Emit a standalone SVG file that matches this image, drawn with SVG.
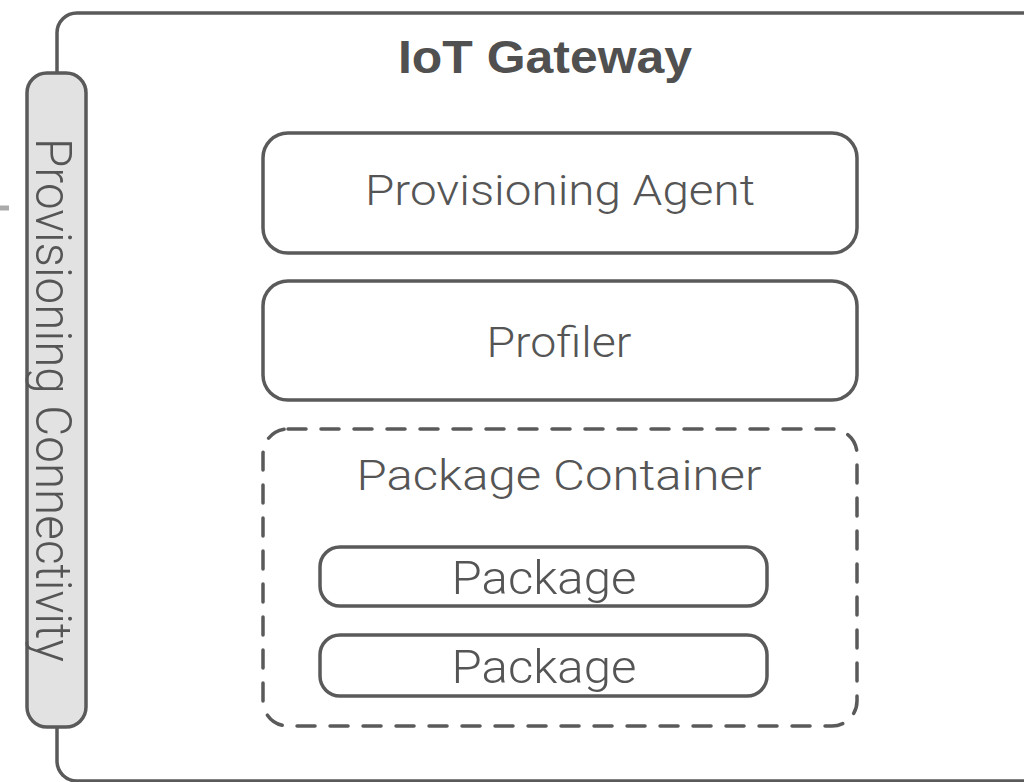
<svg xmlns="http://www.w3.org/2000/svg" width="1024" height="782" viewBox="0 0 1024 782">
  <style>
    .box { fill: #ffffff; stroke: #5a5a5a; stroke-width: 3.5; }
    .dash { fill: none; stroke: #5a5a5a; stroke-width: 3.5; stroke-dasharray: 18 15; stroke-linecap: round; }
    .pill { fill: #e2e2e2; stroke: #5a5a5a; stroke-width: 3.5; }
    .lbl { font-family: Roboto, "Liberation Sans", Arial, sans-serif; font-weight: 300; fill: #555555; text-anchor: middle; }
    .title { font-family: "Liberation Sans", Arial, sans-serif; font-weight: bold; fill: #505050; text-anchor: middle; }
  </style>

  <!-- outer gateway frame -->
  <g id="gateway">
    <rect class="box" x="57" y="13" width="992" height="768" rx="20" ry="20"/>
    <text class="title" x="545" y="73" font-size="46" textLength="294" lengthAdjust="spacingAndGlyphs">IoT Gateway</text>
  </g>

  <!-- short line entering from the left edge -->
  <g id="connectors">
    <line x1="0" y1="208" x2="9" y2="208" stroke="#aaaaaa" stroke-width="5"/>
  </g>

  <!-- vertical connectivity bar -->
  <g id="provisioning-connectivity">
    <rect class="pill" x="27" y="73" width="59" height="654" rx="20" ry="20"/>
    <text class="lbl" transform="translate(36,400) rotate(90)" x="0" y="0" font-size="50" textLength="524" lengthAdjust="spacingAndGlyphs">Provisioning Connectivity</text>
  </g>

  <g id="provisioning-agent">
    <rect class="box" x="263" y="133" width="594" height="120" rx="25" ry="25"/>
    <text class="lbl" x="560" y="205" font-size="43" textLength="390" lengthAdjust="spacingAndGlyphs">Provisioning Agent</text>
  </g>

  <g id="profiler">
    <rect class="box" x="263" y="281" width="594" height="119" rx="25" ry="25"/>
    <text class="lbl" x="559" y="357" font-size="43" textLength="145" lengthAdjust="spacingAndGlyphs">Profiler</text>
  </g>

  <g id="package-container">
    <rect class="dash" x="263" y="429" width="594" height="297" rx="25" ry="25"/>
    <text class="lbl" x="559" y="490" font-size="43" textLength="405" lengthAdjust="spacingAndGlyphs">Package Container</text>
  </g>

  <g id="package-1">
    <rect class="box" x="320" y="547" width="447" height="59" rx="20" ry="20"/>
    <text class="lbl" x="544" y="594" font-size="47" textLength="185" lengthAdjust="spacingAndGlyphs">Package</text>
  </g>

  <g id="package-2">
    <rect class="box" x="320" y="635" width="447" height="61" rx="20" ry="20"/>
    <text class="lbl" x="544" y="683" font-size="47" textLength="185" lengthAdjust="spacingAndGlyphs">Package</text>
  </g>
</svg>
